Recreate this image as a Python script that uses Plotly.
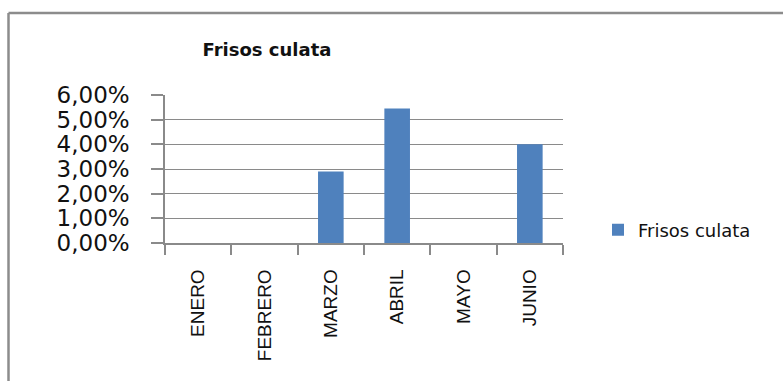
import plotly.graph_objects as go

# Monthly share of cylinder-head friezes
months = ["ENERO", "FEBRERO", "MARZO", "ABRIL", "MAYO", "JUNIO"]
frisos_culata = [0.0, 0.0, 0.029, 0.0545, 0.0, 0.04]
series_name = "Frisos culata"
y_ticks = [0.0, 0.01, 0.02, 0.03, 0.04, 0.05, 0.06]

W, H = 783, 381
L, R, T, B = 165, 220, 95, 138
pw, ph = W - L - R, H - T - B

def px_x(x):
    return (x - L) / pw

def px_y(y):
    return (H - B - y) / ph

grid = "#8a8a8a"

fig = go.Figure(
    go.Bar(
        x=months,
        y=frisos_culata,
        name=series_name,
        marker=dict(color="#4F81BD", line=dict(width=0)),
        showlegend=True,
    )
)

fig.update_layout(
    width=W,
    height=H,
    margin=dict(l=L, r=R, t=T, b=B, autoexpand=False),
    paper_bgcolor="white",
    plot_bgcolor="white",
    separators=",.",
    bargap=0.614,
    title=dict(
        text="<b>Frisos culata</b>",
        font=dict(family="DejaVu Sans", size=18, color="#111"),
        x=px_x(267),
        xref="paper",
        xanchor="center",
        y=1 - 50 / H,
        yref="container",
        yanchor="middle",
    ),
    legend=dict(
        x=px_x(598),
        y=px_y(230),
        xanchor="left",
        yanchor="middle",
        font=dict(family="DejaVu Sans", size=18, color="#111"),
        bgcolor="rgba(0,0,0,0)",
    ),
    xaxis=dict(
        type="category",
        tickangle=-90,
        tickson="boundaries",
        ticks="outside",
        ticklen=10,
        tickcolor=grid,
        tickwidth=1.5,
        showline=True,
        linecolor=grid,
        linewidth=1.5,
        showgrid=False,
        ticklabelstandoff=17,
        tickfont=dict(family="Liberation Sans Narrow, Liberation Sans, Arial, sans-serif",
                      size=19, color="#111"),
    ),
    yaxis=dict(
        range=[0, 0.06],
        tickvals=y_ticks,
        tickformat=".2%",
        ticks="outside",
        ticklen=12,
        tickcolor=grid,
        tickwidth=1.5,
        showline=True,
        linecolor=grid,
        linewidth=1.5,
        showgrid=True,
        gridcolor=grid,
        gridwidth=1.2,
        zeroline=False,
        ticklabelstandoff=17,
        tickfont=dict(family="DejaVu Sans", size=23, color="#111"),
    ),
)

# Chart frame: top and left edges
frame = dict(color="#8c8c8c", width=2.5)
fig.add_shape(type="line", xref="paper", yref="paper",
              x0=px_x(8.5), x1=px_x(800), y0=px_y(13), y1=px_y(13), line=frame)
fig.add_shape(type="line", xref="paper", yref="paper",
              x0=px_x(8.5), x1=px_x(8.5), y0=px_y(13), y1=px_y(400), line=frame)

fig.write_html("out.html")
